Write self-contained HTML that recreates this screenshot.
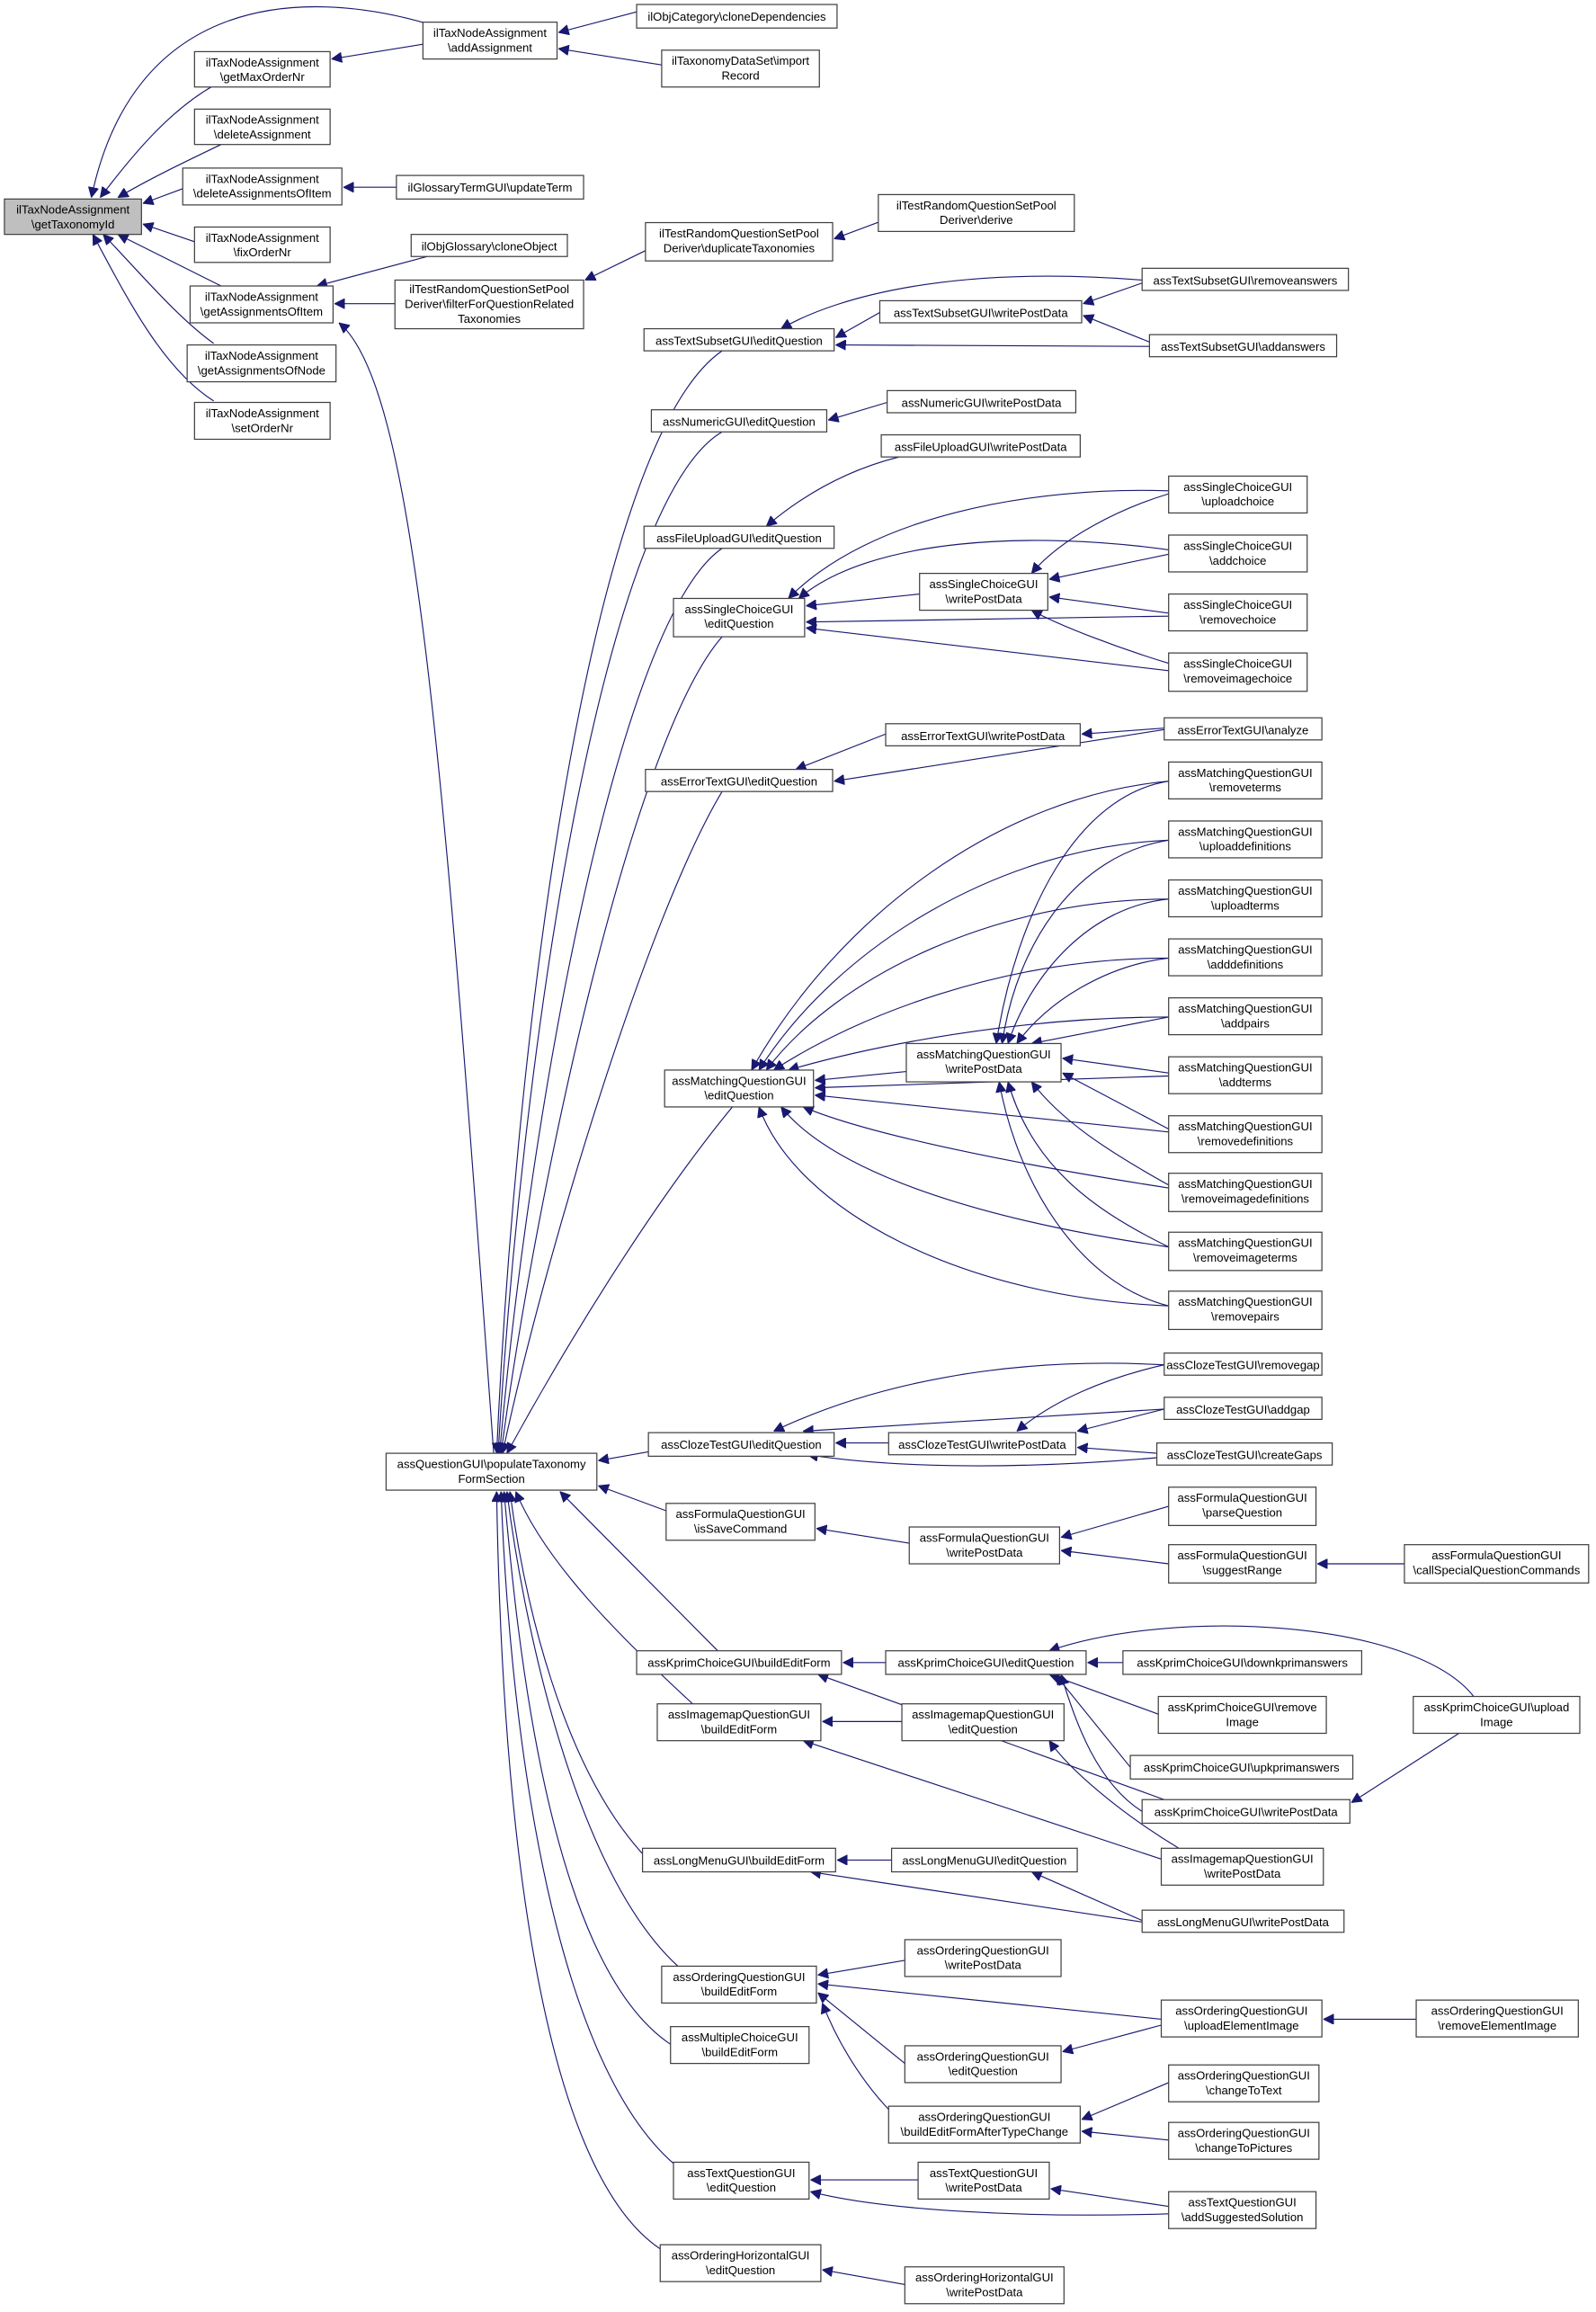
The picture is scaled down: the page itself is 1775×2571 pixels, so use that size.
<!DOCTYPE html>
<html><head><meta charset="utf-8"><style>
html,body{margin:0;padding:0;background:#fff}
svg{display:block}
rect{fill:#fff;stroke:#404040;stroke-width:0.75}
text{font-family:"Liberation Sans Narrow","Liberation Sans",sans-serif;font-size:8px;fill:#000;text-anchor:middle}
path{fill:none;stroke:#191970;stroke-width:0.7}
</style></head><body>
<svg width="1775" height="2571" viewBox="0 0 1083 1568.6" xmlns="http://www.w3.org/2000/svg">
<defs><marker id="a" viewBox="0 0 10 10" refX="10" refY="5" markerWidth="7" markerHeight="7" markerUnits="userSpaceOnUse" orient="auto"><path d="M0,0 L10,5 L0,10 z" style="fill:#191970;stroke:#191970"/></marker></defs>
<g marker-end="url(#a)">
<!-- root edges -->
<path d="M290,16 C200,-10 90,0 62,134"/>
<path d="M145,58 C115,75 90,105 68,134"/>
<path d="M150,98 C125,110 100,122 80,134"/>
<path d="M124,128 L97,138"/>
<path d="M132,164 L97,152"/>
<path d="M150,194 L80,159"/>
<path d="M145,233 C120,215 95,185 70,159"/>
<path d="M145,272 C110,250 85,200 63,159"/>
<path d="M287,30 L225,40"/>
<path d="M432,8 L379,22"/>
<path d="M449,44 L379,33"/>
<path d="M269,127 L233,127"/>
<path d="M290,174 L215,194"/>
<path d="M268,206 L227,206"/>
<path d="M438,170 L397,190"/>
<path d="M598,150 L566,162"/>
<path d="M335,986 C300,500 280,260 230,219"/>
<!-- to populate top -->
<path d="M490,238 C400,300 350,700 337,986"/>
<path d="M490,293 C410,340 355,700 338,986"/>
<path d="M490,372 C420,420 360,750 339,986"/>
<path d="M490,432 C430,500 365,800 340,986"/>
<path d="M490,537 C440,620 370,850 341,986"/>
<path d="M497,751 C440,820 380,920 344,986"/>
<path d="M440,985 L406,991"/>
<path d="M452,1025 L406,1008"/>
<!-- to populate bottom -->
<path d="M487,1120 L380,1012"/>
<path d="M470,1156 C420,1110 370,1060 350,1012"/>
<path d="M440,1262 C380,1200 355,1080 346,1012"/>
<path d="M460,1334 C390,1270 355,1100 344,1012"/>
<path d="M455,1387 C370,1330 350,1100 342,1012"/>
<path d="M462,1472 C370,1400 345,1150 340,1012"/>
<path d="M455,1530 C360,1480 340,1200 337,1012"/>
<!-- TextSubset -->
<path d="M597,212 L567,229"/>
<path d="M775,190 C650,180 570,200 530,223"/>
<path d="M780,235 L567,234"/>
<path d="M775,192 L735,206"/>
<path d="M780,232 L735,214"/>
<path d="M602,273 L562,285"/>
<path d="M610,310 C570,320 540,340 520,357"/>
<!-- SingleChoice -->
<path d="M624,403 L547,411"/>
<path d="M793,333 C700,330 590,350 535,406"/>
<path d="M793,373 C700,360 590,365 542,406"/>
<path d="M793,418 L547,422"/>
<path d="M793,455 L547,426"/>
<path d="M793,335 C760,345 720,365 700,389"/>
<path d="M793,376 L712,393"/>
<path d="M793,416 L712,405"/>
<path d="M793,450 C760,440 720,425 700,414"/>
<!-- ErrorText -->
<path d="M601,498 L540,522"/>
<path d="M790,495 L566,530"/>
<path d="M790,494 L734,498"/>
<!-- Matching -->
<path d="M615,727 L553,733"/>
<path d="M793,530 C680,540 570,620 510,726"/><path d="M793,530 C730,540 690,620 676,708"/>
<path d="M793,570 C680,575 570,640 515,726"/><path d="M793,570 C730,580 690,640 680,708"/>
<path d="M793,610 C680,610 570,660 520,726"/><path d="M793,610 C740,615 700,660 684,708"/>
<path d="M793,650 C680,650 580,690 525,726"/><path d="M793,650 C750,655 710,680 690,708"/>
<path d="M793,690 C690,690 590,710 535,726"/><path d="M793,690 L700,708"/>
<path d="M793,730 L553,738"/><path d="M793,728 L721,718"/>
<path d="M793,768 L553,743"/><path d="M793,766 L721,728"/>
<path d="M793,806 C690,790 590,770 545,751"/><path d="M793,804 C750,780 720,760 700,734"/>
<path d="M793,846 C680,830 570,800 530,751"/><path d="M793,846 C740,820 700,790 684,734"/>
<path d="M793,886 C650,880 540,820 515,751"/><path d="M793,886 C730,870 690,800 678,734"/>
<!-- Cloze -->
<path d="M603,979 L567,979"/>
<path d="M790,926 C680,920 590,940 525,971"/>
<path d="M790,956 L545,971"/>
<path d="M785,989 C680,998 600,995 548,987"/>
<path d="M790,926 C750,935 715,950 690,971"/>
<path d="M790,956 L731,971"/>
<path d="M785,986 L731,982"/>
<!-- Formula -->
<path d="M617,1047 L554,1037"/>
<path d="M793,1022 L720,1043"/>
<path d="M793,1061 L720,1052"/>
<path d="M953,1061 L894,1061"/>
<!-- Kprim -->
<path d="M601,1128 L572,1128"/>
<path d="M762,1128 L738,1128"/>
<path d="M786,1163 L712,1136"/>
<path d="M767,1199 L716,1136"/>
<path d="M775,1229 C745,1210 730,1170 720,1136"/>
<path d="M790,1221 L555,1136"/>
<path d="M1000,1151 C960,1100 800,1090 712,1120"/>
<path d="M990,1176 L917,1223"/>
<!-- Imagemap -->
<path d="M612,1168 L558,1168"/>
<path d="M800,1254 C760,1230 725,1200 712,1181"/>
<path d="M790,1262 L545,1181"/>
<!-- LongMenu -->
<path d="M605,1262 L568,1262"/>
<path d="M775,1303 L700,1270"/>
<path d="M775,1304 L550,1270"/>
<!-- Ordering -->
<path d="M614,1330 L555,1340"/>
<path d="M788,1370 L555,1346"/>
<path d="M961,1370 L898,1370"/>
<path d="M614,1400 L555,1352"/>
<path d="M788,1374 L721,1392"/>
<path d="M612,1440 C590,1420 570,1390 558,1359"/>
<path d="M793,1413 L734,1438"/>
<path d="M793,1452 L734,1446"/>
<!-- TextQuestion -->
<path d="M623,1479 L550,1479"/>
<path d="M793,1497 L713,1485"/>
<path d="M793,1502 C700,1505 600,1500 550,1487"/>
<path d="M614,1550 L558,1540"/>
</g>
<g>
<rect x="3" y="135" width="93" height="24" style="fill:#bfbfbf"/><text x="49.5" y="145">ilTaxNodeAssignment</text><text x="49.5" y="155">\getTaxonomyId</text>
<rect x="287" y="15" width="91" height="25"/><text x="332.5" y="25">ilTaxNodeAssignment</text><text x="332.5" y="35">\addAssignment</text>
<rect x="132" y="35" width="92" height="24"/><text x="178" y="45">ilTaxNodeAssignment</text><text x="178" y="55">\getMaxOrderNr</text>
<rect x="132" y="74" width="92" height="24"/><text x="178" y="84">ilTaxNodeAssignment</text><text x="178" y="94">\deleteAssignment</text>
<rect x="124" y="114" width="108" height="25"/><text x="178" y="124">ilTaxNodeAssignment</text><text x="178" y="134">\deleteAssignmentsOfItem</text>
<rect x="132" y="154" width="92" height="24"/><text x="178" y="164">ilTaxNodeAssignment</text><text x="178" y="174">\fixOrderNr</text>
<rect x="129" y="194" width="97" height="25"/><text x="177.5" y="204">ilTaxNodeAssignment</text><text x="177.5" y="214">\getAssignmentsOfItem</text>
<rect x="127" y="234" width="101" height="25"/><text x="177.5" y="244">ilTaxNodeAssignment</text><text x="177.5" y="254">\getAssignmentsOfNode</text>
<rect x="132" y="273" width="92" height="25"/><text x="178" y="283">ilTaxNodeAssignment</text><text x="178" y="293">\setOrderNr</text>
<rect x="432" y="3" width="136" height="16"/><text x="500" y="14">ilObjCategory\cloneDependencies</text>
<rect x="449" y="34" width="107" height="25"/><text x="502.5" y="44">ilTaxonomyDataSet\import</text><text x="502.5" y="54">Record</text>
<rect x="269" y="119" width="127" height="16"/><text x="332.5" y="130">ilGlossaryTermGUI\updateTerm</text>
<rect x="279" y="159" width="106" height="15"/><text x="332" y="170">ilObjGlossary\cloneObject</text>
<rect x="268" y="190" width="128" height="33"/><text x="332" y="199">ilTestRandomQuestionSetPool</text><text x="332" y="209">Deriver\filterForQuestionRelated</text><text x="332" y="219">Taxonomies</text>
<rect x="438" y="151" width="127" height="26"/><text x="501.5" y="161">ilTestRandomQuestionSetPool</text><text x="501.5" y="171">Deriver\duplicateTaxonomies</text>
<rect x="596" y="132" width="133" height="25"/><text x="662.5" y="142">ilTestRandomQuestionSetPool</text><text x="662.5" y="152">Deriver\derive</text>
<rect x="437" y="223" width="129" height="15"/><text x="501.5" y="234">assTextSubsetGUI\editQuestion</text>
<rect x="775" y="182" width="140" height="15"/><text x="845" y="193">assTextSubsetGUI\removeanswers</text>
<rect x="597" y="204" width="137" height="15"/><text x="665.5" y="215">assTextSubsetGUI\writePostData</text>
<rect x="780" y="227" width="127" height="15"/><text x="843.5" y="238">assTextSubsetGUI\addanswers</text>
<rect x="442" y="278" width="119" height="15"/><text x="501.5" y="289">assNumericGUI\editQuestion</text>
<rect x="602" y="265" width="128" height="15"/><text x="666" y="276">assNumericGUI\writePostData</text>
<rect x="598" y="295" width="135" height="15"/><text x="665.5" y="306">assFileUploadGUI\writePostData</text>
<rect x="437" y="357" width="129" height="15"/><text x="501.5" y="368">assFileUploadGUI\editQuestion</text>
<rect x="457" y="406" width="89" height="26"/><text x="501.5" y="416">assSingleChoiceGUI</text><text x="501.5" y="426">\editQuestion</text>
<rect x="624" y="389" width="87" height="25"/><text x="667.5" y="399">assSingleChoiceGUI</text><text x="667.5" y="409">\writePostData</text>
<rect x="793" y="323" width="94" height="25"/><text x="840" y="333">assSingleChoiceGUI</text><text x="840" y="343">\uploadchoice</text>
<rect x="793" y="363" width="94" height="25"/><text x="840" y="373">assSingleChoiceGUI</text><text x="840" y="383">\addchoice</text>
<rect x="793" y="403" width="94" height="25"/><text x="840" y="413">assSingleChoiceGUI</text><text x="840" y="423">\removechoice</text>
<rect x="793" y="443" width="94" height="26"/><text x="840" y="453">assSingleChoiceGUI</text><text x="840" y="463">\removeimagechoice</text>
<rect x="601" y="491" width="132" height="15"/><text x="667" y="502">assErrorTextGUI\writePostData</text>
<rect x="790" y="487" width="107" height="15"/><text x="843.5" y="498">assErrorTextGUI\analyze</text>
<rect x="438" y="522" width="127" height="15"/><text x="501.5" y="533">assErrorTextGUI\editQuestion</text>
<rect x="793" y="517" width="104" height="25"/><text x="845" y="527">assMatchingQuestionGUI</text><text x="845" y="537">\removeterms</text>
<rect x="793" y="557" width="104" height="25"/><text x="845" y="567">assMatchingQuestionGUI</text><text x="845" y="577">\uploaddefinitions</text>
<rect x="793" y="597" width="104" height="25"/><text x="845" y="607">assMatchingQuestionGUI</text><text x="845" y="617">\uploadterms</text>
<rect x="793" y="637" width="104" height="25"/><text x="845" y="647">assMatchingQuestionGUI</text><text x="845" y="657">\adddefinitions</text>
<rect x="793" y="677" width="104" height="25"/><text x="845" y="687">assMatchingQuestionGUI</text><text x="845" y="697">\addpairs</text>
<rect x="793" y="717" width="104" height="25"/><text x="845" y="727">assMatchingQuestionGUI</text><text x="845" y="737">\addterms</text>
<rect x="793" y="757" width="104" height="25"/><text x="845" y="767">assMatchingQuestionGUI</text><text x="845" y="777">\removedefinitions</text>
<rect x="793" y="796" width="104" height="26"/><text x="845" y="806">assMatchingQuestionGUI</text><text x="845" y="816">\removeimagedefinitions</text>
<rect x="793" y="836" width="104" height="26"/><text x="845" y="846">assMatchingQuestionGUI</text><text x="845" y="856">\removeimageterms</text>
<rect x="793" y="876" width="104" height="26"/><text x="845" y="886">assMatchingQuestionGUI</text><text x="845" y="896">\removepairs</text>
<rect x="615" y="708" width="105" height="26"/><text x="667.5" y="718">assMatchingQuestionGUI</text><text x="667.5" y="728">\writePostData</text>
<rect x="451" y="726" width="101" height="25"/><text x="501.5" y="736">assMatchingQuestionGUI</text><text x="501.5" y="746">\editQuestion</text>
<rect x="790" y="918" width="107" height="15"/><text x="843.5" y="929">assClozeTestGUI\removegap</text>
<rect x="790" y="948" width="107" height="15"/><text x="843.5" y="959">assClozeTestGUI\addgap</text>
<rect x="785" y="979" width="119" height="15"/><text x="844.5" y="990">assClozeTestGUI\createGaps</text>
<rect x="603" y="972" width="127" height="15"/><text x="666.5" y="983">assClozeTestGUI\writePostData</text>
<rect x="440" y="972" width="126" height="16"/><text x="503" y="983">assClozeTestGUI\editQuestion</text>
<rect x="262" y="986" width="143" height="25"/><text x="333.5" y="996">assQuestionGUI\populateTaxonomy</text><text x="333.5" y="1006">FormSection</text>
<rect x="452" y="1020" width="101" height="25"/><text x="502.5" y="1030">assFormulaQuestionGUI</text><text x="502.5" y="1040">\isSaveCommand</text>
<rect x="617" y="1036" width="102" height="25"/><text x="668" y="1046">assFormulaQuestionGUI</text><text x="668" y="1056">\writePostData</text>
<rect x="793" y="1009" width="100" height="26"/><text x="843" y="1019">assFormulaQuestionGUI</text><text x="843" y="1029">\parseQuestion</text>
<rect x="793" y="1048" width="100" height="26"/><text x="843" y="1058">assFormulaQuestionGUI</text><text x="843" y="1068">\suggestRange</text>
<rect x="953" y="1048" width="125" height="26"/><text x="1015.5" y="1058">assFormulaQuestionGUI</text><text x="1015.5" y="1068">\callSpecialQuestionCommands</text>
<rect x="432" y="1120" width="139" height="16"/><text x="501.5" y="1131">assKprimChoiceGUI\buildEditForm</text>
<rect x="601" y="1120" width="136" height="16"/><text x="669" y="1131">assKprimChoiceGUI\editQuestion</text>
<rect x="762" y="1120" width="162" height="16"/><text x="843" y="1131">assKprimChoiceGUI\downkprimanswers</text>
<rect x="786" y="1151" width="114" height="25"/><text x="843" y="1161">assKprimChoiceGUI\remove</text><text x="843" y="1171">Image</text>
<rect x="767" y="1191" width="151" height="16"/><text x="842.5" y="1202">assKprimChoiceGUI\upkprimanswers</text>
<rect x="775" y="1221" width="141" height="16"/><text x="845.5" y="1232">assKprimChoiceGUI\writePostData</text>
<rect x="959" y="1151" width="113" height="25"/><text x="1015.5" y="1161">assKprimChoiceGUI\upload</text><text x="1015.5" y="1171">Image</text>
<rect x="446" y="1156" width="111" height="25"/><text x="501.5" y="1166">assImagemapQuestionGUI</text><text x="501.5" y="1176">\buildEditForm</text>
<rect x="612" y="1156" width="110" height="25"/><text x="667" y="1166">assImagemapQuestionGUI</text><text x="667" y="1176">\editQuestion</text>
<rect x="788" y="1254" width="110" height="25"/><text x="843" y="1264">assImagemapQuestionGUI</text><text x="843" y="1274">\writePostData</text>
<rect x="436" y="1254" width="131" height="16"/><text x="501.5" y="1265">assLongMenuGUI\buildEditForm</text>
<rect x="605" y="1254" width="126" height="16"/><text x="668" y="1265">assLongMenuGUI\editQuestion</text>
<rect x="775" y="1296" width="137" height="15"/><text x="843.5" y="1307">assLongMenuGUI\writePostData</text>
<rect x="449" y="1334" width="105" height="25"/><text x="501.5" y="1344">assOrderingQuestionGUI</text><text x="501.5" y="1354">\buildEditForm</text>
<rect x="614" y="1316" width="106" height="25"/><text x="667" y="1326">assOrderingQuestionGUI</text><text x="667" y="1336">\writePostData</text>
<rect x="788" y="1357" width="109" height="25"/><text x="842.5" y="1367">assOrderingQuestionGUI</text><text x="842.5" y="1377">\uploadElementImage</text>
<rect x="961" y="1357" width="110" height="25"/><text x="1016" y="1367">assOrderingQuestionGUI</text><text x="1016" y="1377">\removeElementImage</text>
<rect x="614" y="1388" width="106" height="25"/><text x="667" y="1398">assOrderingQuestionGUI</text><text x="667" y="1408">\editQuestion</text>
<rect x="603" y="1429" width="130" height="25"/><text x="668" y="1439">assOrderingQuestionGUI</text><text x="668" y="1449">\buildEditFormAfterTypeChange</text>
<rect x="793" y="1401" width="102" height="25"/><text x="844" y="1411">assOrderingQuestionGUI</text><text x="844" y="1421">\changeToText</text>
<rect x="793" y="1440" width="102" height="25"/><text x="844" y="1450">assOrderingQuestionGUI</text><text x="844" y="1460">\changeToPictures</text>
<rect x="455" y="1375" width="94" height="25"/><text x="502" y="1385">assMultipleChoiceGUI</text><text x="502" y="1395">\buildEditForm</text>
<rect x="457" y="1467" width="92" height="25"/><text x="503" y="1477">assTextQuestionGUI</text><text x="503" y="1487">\editQuestion</text>
<rect x="623" y="1467" width="89" height="25"/><text x="667.5" y="1477">assTextQuestionGUI</text><text x="667.5" y="1487">\writePostData</text>
<rect x="793" y="1487" width="100" height="25"/><text x="843" y="1497">assTextQuestionGUI</text><text x="843" y="1507">\addSuggestedSolution</text>
<rect x="448" y="1523" width="109" height="25"/><text x="502.5" y="1533">assOrderingHorizontalGUI</text><text x="502.5" y="1543">\editQuestion</text>
<rect x="614" y="1538" width="108" height="25"/><text x="668" y="1548">assOrderingHorizontalGUI</text><text x="668" y="1558">\writePostData</text>
</g>
</svg>
</body></html>
